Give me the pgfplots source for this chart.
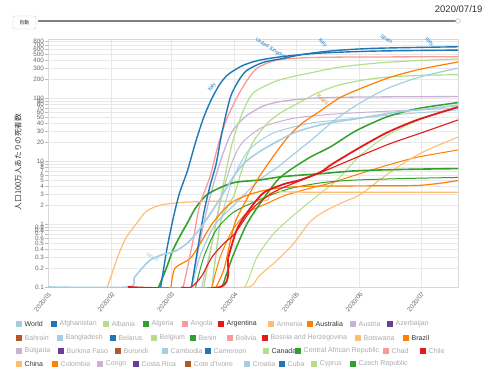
\documentclass[border=0pt]{standalone}
\usepackage{pgfplots}
\pgfplotsset{compat=1.18}
\usepackage{fontspec}
\setmainfont{Liberation Sans}
\newfontfamily\cjk{Noto Sans CJK JP}
\definecolor{c1}{HTML}{A6CEE3}
\definecolor{c2}{HTML}{1F78B4}
\definecolor{c3}{HTML}{B2DF8A}
\definecolor{c4}{HTML}{33A02C}
\definecolor{c5}{HTML}{FB9A99}
\definecolor{c6}{HTML}{E31A1C}
\definecolor{c7}{HTML}{FDBF6F}
\definecolor{c8}{HTML}{FF7F00}
\definecolor{c9}{HTML}{CAB2D6}
\definecolor{c10}{HTML}{6A3D9A}
\definecolor{c11}{HTML}{B15928}
\definecolor{txt}{HTML}{333333}
\definecolor{gtx}{HTML}{AAAAAA}
\newcommand{\legitem}[5]{%
  \fill[#3] (#1pt,{-#2pt-3pt}) rectangle ++(6pt,6pt);
  \node[anchor=west,inner sep=0pt,font=\fontsize{7}{8}\selectfont,text=#5] at ({#1pt+8.5pt},{-#2pt}) {#4};}
\newcommand{\lab}[5]{\node[font=\fontsize{5.2}{6}\selectfont,inner sep=0pt,text=#1,rotate=#2] at (axis cs:#3,#4) {#5};}
\begin{document}
\begin{tikzpicture}
\useasboundingbox (0,0) rectangle (490pt,370pt);
% header
\node[anchor=east,font=\fontsize{9.5}{11}\selectfont,text=txt] at (486pt,360.5pt) {2020/07/19};
\draw[line width=1.6pt,draw=black!50] (38pt,349pt) -- (458pt,349pt);
\filldraw[fill=white,draw=black!30] (458pt,349pt) circle (2.3pt);
\draw[rounded corners=1.5pt,draw=black!20,fill=white] (13pt,341pt) rectangle (36pt,354pt);
\node[font=\cjk\fontsize{5}{6}\selectfont,text=txt] at (24.5pt,347.5pt) {自動};
% y label
\node[rotate=90,font=\cjk\fontsize{7.6}{9}\selectfont,text=txt] at (18pt,208pt) {人口100万人あたりの死者数};
\begin{axis}[at={(48pt,83pt)},anchor=south west,scale only axis,
  width=410pt,height=248pt,
  ymode=log,xmin=0,xmax=200,ymin=0.1,ymax=870,
  clip=true,
  axis line style={draw=black!15},
  grid=major,major grid style={draw=black!9,line width=0.4pt},
  xtick={0,31,60,91,121,152,182},
  xticklabels={2020/01,2020/02,2020/03,2020/04,2020/05,2020/06,2020/07},
  xtick style={draw=none},
  x tick label style={rotate=50,anchor=north east,inner sep=1pt,font=\fontsize{6.3}{7}\selectfont,text=black!60},
  ytick={0.1,0.2,0.3,0.4,0.5,0.6,0.7,0.8,0.9,1,2,3,4,5,6,7,8,9,10,20,30,40,50,60,70,80,90,100,200,300,400,500,600,700,800},
  yticklabels={0.1,0.2,0.3,0.4,0.5,0.6,0.7,0.8,0.9,1,2,3,4,5,6,7,8,9,10,20,30,40,50,60,70,80,90,100,200,300,400,500,600,700,800},
  ytick pos=left,tick align=outside,major tick length=3pt,
  ytick style={draw=black!25},
  y tick label style={inner sep=1pt,font=\fontsize{6.3}{7}\selectfont,text=black!60},
  every axis plot/.append style={line width=1pt,smooth,tension=0.45,no markers},
]
% light blue 2
\addplot[c1] coordinates {(80,0.1)(84,1)(90,5)(98,15)(110,28)(128,40)(142,45)(170,55)(200,65)};
% light purple 2
\addplot[c9] coordinates {(75,0.1)(80,0.5)(85,3)(90,10)(95,20)(105,35)(120,48)(140,56)(170,63)(200,69)};
% light purple 1
\addplot[c9,line width=1.3pt] coordinates {(70,0.1)(74,0.5)(78,2)(82,6)(86,15)(90,30)(96,50)(105,75)(115,90)(130,100)(150,104)(200,106)};
% Canada-like light green
\addplot[c3,line width=1.2pt] coordinates {(80,0.1)(84,1)(88,2)(91,3)(95,8)(100,20)(107,40)(114,60)(121,80)(130,115)(140,155)(152,190)(165,215)(182,230)(200,236)};
% light green 1
\addplot[c3,line width=1.2pt] coordinates {(76,0.1)(80,0.5)(85,3.5)(90,20)(95,60)(100,120)(110,180)(118,215)(130,260)(142,310)(160,360)(180,395)(200,420)};
% light green 3
\addplot[c3] coordinates {(90,0.1)(96,0.1)(102,0.3)(110,0.7)(120,1.4)(133,3.1)(141,5)(152,12)(165,25)(181,45)(200,75)};
% light blue 1
\addplot[c1,line width=1.2pt] coordinates {(70,0.1)(74,0.3)(78,0.6)(82,1.04)(92,2.2)(103,5)(112,8)(120,13)(128,21)(140,45)(152,83)(165,140)(181,215)(200,300)};
% orange 2
\addplot[c8] coordinates {(80,0.1)(84,0.3)(90,0.8)(97,1.5)(105,2)(115,2.8)(125,3.5)(138,4.5)(150,6)(165,8.5)(180,11.5)(200,15)};
% light orange rising
\addplot[c7,line width=1.1pt] coordinates {(80,0.1)(98,0.1)(103,0.15)(112,0.27)(120,0.5)(128,1.1)(135,1.6)(145,2.3)(152,2.9)(165,6)(175,10)(185,15)(200,24)};
% green 3
\addplot[c4] coordinates {(72,0.1)(76,0.3)(82,0.8)(90,1.5)(100,2.2)(110,3)(120,3.8)(135,4.6)(150,5)(175,5.3)(200,5.5)};
% green 2 thick
\addplot[c4,line width=1.6pt] coordinates {(54,0.1)(58,0.21)(61,0.39)(65,0.7)(68,1.04)(72,1.8)(78,3)(90,4.5)(103,5)(115,5.7)(133,6.3)(150,7)(175,7.4)(200,7.6)};
% Australia
\addplot[c8,line width=1.2pt] coordinates {(60,0.1)(62,0.2)(70,0.3)(80,1)(88,2)(95,2.7)(105,3.4)(115,3.8)(130,4)(160,4.05)(180,4.1)(190,4.4)(200,4.9)};
% China
\addplot[c7,line width=1.2pt] coordinates {(29,0.1)(34,0.3)(38,0.6)(43,1)(48,1.6)(55,2)(65,2.2)(80,2.3)(106,2.35)(109,3.2)(130,3.2)(200,3.2)};
% pink
\addplot[c5,line width=1.3pt] coordinates {(66,0.1)(68,0.2)(71,0.6)(74,2)(79,5.6)(83,18)(87,45)(92,100)(97,190)(102,300)(110,390)(120,430)(140,448)(200,455)};
% blue A
\addplot[c2,line width=1.4pt] coordinates {(55,0.1)(58,0.4)(61,1.2)(64,3)(68,7)(72,20)(76,50)(80,100)(84,170)(88,240)(95,330)(103,400)(115,460)(133,520)(160,560)(200,580)};
% blue B
\addplot[c2,line width=1.4pt] coordinates {(70,0.1)(73,0.4)(76,1.5)(79,4)(82,9)(85,30)(89,104)(93,190)(97,276)(105,370)(115,430)(125,500)(140,570)(160,620)(200,655)};
% Brazil
\addplot[c8,line width=1.2pt] coordinates {(82,0.1)(86,0.2)(91,1)(97,2.5)(103,5.6)(110,12)(117,24)(124,40)(131,57)(142,100)(152,140)(167,215)(182,290)(200,375)};
% green 1 thick
\addplot[c4,line width=1.5pt] coordinates {(85,0.1)(90,0.3)(97,1)(105,2.5)(112,5)(118,7.2)(128,11.6)(138,17)(150,30)(165,50)(180,68)(200,85)};
% Argentina
\addplot[c6,line width=1.1pt] coordinates {(65,0.1)(70,0.1)(75,0.15)(80,0.3)(86,0.5)(91,0.7)(100,1.8)(110,3.2)(121,4.6)(135,7)(152,12)(167,19)(182,28)(200,45)};
% World
\addplot[c1,line width=1.6pt] coordinates {(0,0.1)(39,0.1)(42,0.14)(46,0.2)(50,0.27)(55,0.32)(62,0.37)(68,0.5)(74,0.83)(80,1.6)(85,2.9)(91,6)(96,9.5)(103,14)(110,19)(121,29)(135,39)(152,48)(170,60)(182,66)(200,77)};
% red thick
\addplot[c6,line width=1.8pt] coordinates {(39,0.1)(84,0.1)(88,0.3)(92,0.8)(97,1.5)(105,3.1)(115,4.3)(123,5)(133,6.7)(138,8.7)(150,15)(165,28)(180,45)(200,72)};
\end{axis}
\begin{axis}[at={(48pt,83pt)},anchor=south west,scale only axis,
  width=410pt,height=248pt,ymode=log,xmin=0,xmax=200,ymin=0.1,ymax=870,
  clip=false,axis lines=none]
\lab{c2}{55}{80}{150}{Italy}
\lab{c2}{-32}{109}{600}{United Kingdom}
\lab{c2}{-45}{134}{760}{Italy}
\lab{c2}{-30}{165}{860}{Spain}
\lab{c2}{-45}{186}{780}{Italy}
\lab{c8}{-40}{134}{95}{Brazil}
\lab{c1}{-30}{51}{0.3}{World}
\end{axis}
\begin{scope}[yshift=370pt]
\legitem{16}{324}{c1}{World}{txt}
\legitem{51}{324}{c2}{Afghanistan}{gtx}
\legitem{103}{324}{c3}{Albania}{gtx}
\legitem{143}{324}{c4}{Algeria}{gtx}
\legitem{182}{324}{c5}{Angola}{gtx}
\legitem{218}{324}{c6}{Argentina}{txt}
\legitem{268}{324}{c7}{Armenia}{gtx}
\legitem{307}{324}{c8}{Australia}{txt}
\legitem{350}{324}{c9}{Austria}{gtx}
\legitem{387}{324}{c10}{Azerbaijan}{gtx}
\legitem{16}{338}{c11}{Bahrain}{gtx}
\legitem{57}{338}{c1}{Bangladesh}{gtx}
\legitem{110}{338}{c2}{Belarus}{gtx}
\legitem{151}{338}{c3}{Belgium}{gtx}
\legitem{190}{338}{c4}{Benin}{gtx}
\legitem{227}{338}{c5}{Bolivia}{gtx}
\legitem{262}{338}{c6}{Bosnia and Herzegovina}{gtx}
\legitem{355}{338}{c7}{Botswana}{gtx}
\legitem{403}{338}{c8}{Brazil}{txt}
\legitem{16}{351}{c9}{Bulgaria}{gtx}
\legitem{58}{351}{c10}{Burkina Faso}{gtx}
\legitem{115}{351}{c11}{Burundi}{gtx}
\legitem{162}{351}{c1}{Cambodia}{gtx}
\legitem{205}{351}{c2}{Cameroon}{gtx}
\legitem{263}{351}{c3}{Canada}{txt}
\legitem{295}{351}{c4}{Central African Republic}{gtx}
\legitem{383}{351}{c5}{Chad}{gtx}
\legitem{420}{351}{c6}{Chile}{gtx}
\legitem{16}{364}{c7}{China}{txt}
\legitem{52}{364}{c8}{Colombia}{gtx}
\legitem{97}{364}{c9}{Congo}{gtx}
\legitem{133}{364}{c10}{Costa Rica}{gtx}
\legitem{185}{364}{c11}{Cote d'Ivoire}{gtx}
\legitem{244}{364}{c1}{Croatia}{gtx}
\legitem{279}{364}{c2}{Cuba}{gtx}
\legitem{311}{364}{c3}{Cyprus}{gtx}
\legitem{350}{364}{c4}{Czech Republic}{gtx}
\end{scope}
\end{tikzpicture}
\end{document}
